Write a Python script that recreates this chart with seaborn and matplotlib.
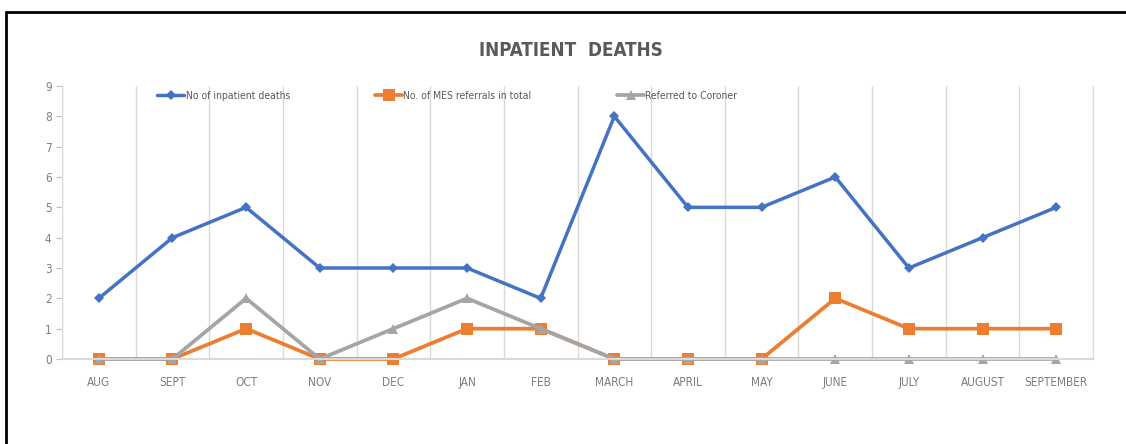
import matplotlib
matplotlib.use('Agg')
import matplotlib.pyplot as plt
from matplotlib.lines import Line2D
import pandas as pd
import seaborn as sns
import numpy as np

months = ['AUG', 'SEPT', 'OCT', 'NOV', 'DEC', 'JAN', 'FEB', 'MARCH', 'APRIL',
          'MAY', 'JUNE', 'JULY', 'AUGUST', 'SEPTEMBER']
inpatient_deaths = [2, 4, 5, 3, 3, 3, 2, 8, 5, 5, 6, 3, 4, 5]
mes_referrals = [0, 0, 1, 0, 0, 1, 1, 0, 0, 0, 2, 1, 1, 1]
coroner = [0, 0, 2, 0, 1, 2, 1, 0, 0, 0, 0, 0, 0, 0]

sns.set_style('white')
plt.rcParams['font.family'] = ['DejaVu Sans']
plt.rcParams['font.stretch'] = 'condensed'

df = pd.DataFrame({'pos': np.arange(len(months)), 'month': months,
                   'deaths': inpatient_deaths, 'mes': mes_referrals,
                   'coroner': coroner})

fig = plt.figure(figsize=(11.26, 4.44), dpi=100)
ax = fig.add_axes([62/1126, 1-359/444, (1093-62)/1126, (359-86)/444])

sns.lineplot(data=df, x='pos', y='deaths', ax=ax, color='#4472C4', lw=2.5,
             marker='D', markersize=5, markeredgewidth=0, clip_on=False,
             label='No of inpatient deaths')
sns.lineplot(data=df, x='pos', y='mes', ax=ax, color='#ED7D31', lw=2.7,
             marker='s', markersize=8, markeredgewidth=0, clip_on=False,
             label='No. of MES referrals in total')
sns.lineplot(data=df, x='pos', y='coroner', ax=ax, color='#A5A5A5', lw=2.7,
             marker='^', markersize=7.5, markeredgewidth=0, clip_on=False,
             label='Referred to Coroner')

ax.set_xlim(-0.5, len(months) - 0.5)
ax.set_ylim(0, 9)
ax.set_yticks(range(10))
ax.set_xticks(df['pos'])
ax.set_xticklabels(months)
ax.set_xticks(np.arange(-0.5, len(months), 1), minor=True)
ax.grid(False)
ax.grid(True, which='minor', axis='x', color='#d9d9d9', lw=1)
ax.tick_params(axis='x', which='major', length=0, pad=12, labelsize=8.5, labelcolor='#7f7f7f')
ax.tick_params(axis='x', which='minor', length=4, color='#d9d9d9', direction='out')
ax.tick_params(axis='y', length=4, color='#bfbfbf', direction='out', labelsize=8.5,
               labelcolor='#7f7f7f', left=True, right=False)
ax.set_xlabel('')
ax.set_ylabel('')
ax.spines['top'].set_visible(False)
ax.spines['right'].set_color('#d9d9d9')
ax.spines['left'].set_color('#d9d9d9')
ax.spines['bottom'].set_color('#d9d9d9')
ax.spines['bottom'].set_linewidth(1.5)

ax.legend(ncol=3, loc='center left', bbox_to_anchor=(148/1126, 1-96/444),
          bbox_transform=fig.transFigure, frameon=False, fontsize=7.5,
          columnspacing=8.2, handlelength=2.6, handletextpad=0.1,
          labelcolor='#595959')

fig.text(571/1126, 1-50/444, 'INPATIENT  DEATHS', ha='center', va='center',
         fontsize=13.5, fontweight='bold', color='#595959')

# border of the original screenshot
fig.add_artist(Line2D([6/1126, 6/1126], [0, 1-12/444], transform=fig.transFigure, color='black', lw=2))
fig.add_artist(Line2D([6/1126, 1], [1-12/444, 1-12/444], transform=fig.transFigure, color='black', lw=2))

fig.savefig('out.png', dpi=100)
